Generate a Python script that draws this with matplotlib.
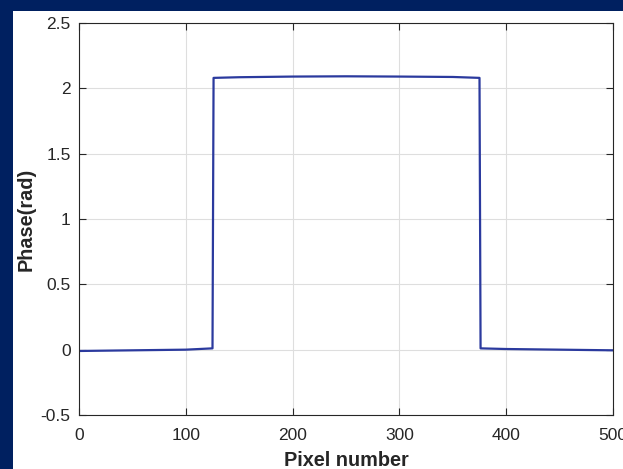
import numpy as np
import matplotlib
matplotlib.use("Agg")
import matplotlib.pyplot as plt
from matplotlib.patches import Rectangle

# phase profile
pixel = [0, 50, 100, 125, 126, 150, 200, 250, 300, 350, 375, 376, 400, 450, 500]
phase = [-0.01, -0.005, 0.0, 0.01, 2.08, 2.085, 2.09, 2.092, 2.09, 2.087, 2.08, 0.01, 0.005, 0.0, -0.005]

xticks = [0, 100, 200, 300, 400, 500]
yticks = [-0.5, 0, 0.5, 1, 1.5, 2, 2.5]
ytick_labels = ["-0.5", "0", "0.5", "1", "1.5", "2", "2.5"]

plt.rcParams["font.family"] = ["Liberation Sans", "DejaVu Sans"]

fig = plt.figure(figsize=(6.23, 4.69), dpi=100)
fig.patch.set_facecolor("#002060")
fig.patches.append(Rectangle((13 / 623, 0), 1, 1 - 11 / 469, transform=fig.transFigure,
                             facecolor="white", edgecolor="none", zorder=-10))

ax = fig.add_axes([79 / 623, 1 - 415 / 469, (613 - 79) / 623, (415 - 23) / 469])
ax.plot(pixel, phase, color="#2b3a9e", lw=1.6)

ax.set_xlim(0, 500)
ax.set_ylim(-0.5, 2.5)
ax.set_xticks(xticks)
ax.set_yticks(yticks)
ax.set_yticklabels(ytick_labels)
ax.grid(True, color="#dedede", lw=0.8)
ax.set_axisbelow(True)
ax.tick_params(direction="in", top=True, right=True, labelsize=12.5,
               colors="#262626", length=5, width=0.8)
ax.tick_params(axis="x", pad=9)
ax.tick_params(axis="y", pad=6)
for s in ax.spines.values():
    s.set_color("#262626")
    s.set_linewidth(0.8)

ax.set_xlabel("Pixel number", fontsize=14.3, fontweight="bold", color="#262626")
ax.set_ylabel("Phase(rad)", fontsize=14.3, fontweight="bold", color="#262626")
ax.xaxis.set_label_coords(0.5, -0.093)
ax.yaxis.set_label_coords(-0.081, 0.5)

fig.savefig("out.png", dpi=100, facecolor=fig.get_facecolor())
